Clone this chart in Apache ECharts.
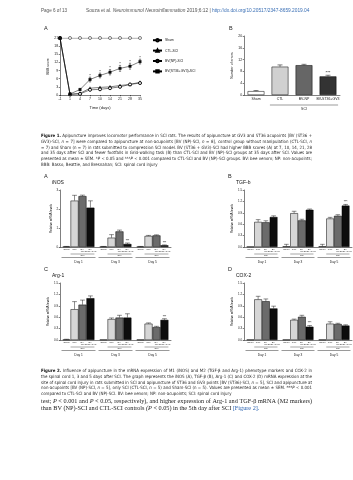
<!DOCTYPE html>
<html>
<head>
<meta charset="utf-8">
<script src="https://cdn.jsdelivr.net/npm/echarts@6.0.0/dist/echarts.min.js"></script>
<style>
html,body{margin:0;padding:0;background:#ffffff;}
#chart{width:353px;height:480px;}
</style>
</head>
<body>
<div id="chart"></div>
<script>
// ================= DATA =================
// Figure 1A - BBB score over time
const bbbDays = ['-1','1','4','7','10','14','21','28','35'];
const bbbTicks = [0,3,6,9,12,15,18,21];
const bbbSham = [21,21,21,21,21,21,21,21,21];
const bbbCTL  = [21,0.3,0.6,2.5,2.8,3.0,3.5,3.9,4.7];
const bbbNP   = [21,0.2,0.4,1.9,2.1,2.5,3.0,3.9,4.4];
const bbbST   = [21,0.4,2.0,5.7,7.2,8.4,9.8,10.6,12.3];
const bbbSTErr = [0,0.2,0.4,0.9,0.9,1.0,1.1,1.1,0.9];
const bbbSig   = ['','','','*','*','*','*','*','*'];
const bbbNames = ['Sham','CTL-SCI','BV(NP)-SCI','BV(ST36+GV3)-SCI'];

// Figure 1B - Grid-walking errors
const gwGroups = ['Sham','CTL','BV-NP','BV-ST36+GV3'];
const gwTicks  = [0,4,8,12,16,20];
const gwErrors = [1.3,9.6,10.1,6.3];
const gwSEM    = [0.2,0.6,0.3,0.4];
const gwSig    = ['','','','***'];

// Figure 2 - mRNA levels
const dayLabels  = ['Day 1','Day 3','Day 5'];
const groupShort = ['Sham','CTL','BV-\nNP','BV-\nST36+GV3'];
const inosTicks = [0,1,2,3];
const inosSham = [0.02,0.02,0.02];
const inosCTL  = [2.44,0.49,0.58];
const inosNP   = [2.68,0.82,0.61];
const inosST   = [2.07,0.16,0.09];
const inosShamErr = [0.01,0.01,0.01];
const inosCTLErr  = [0.28,0.16,0.03];
const inosNPErr   = [0.05,0.07,0.03];
const inosSTErr   = [0.36,0.05,0.02];
const inosSig = ['','***','***'];

const tgfTicks = [0,0.3,0.6,0.9,1.2,1.5];
const tgfSham = [0.01,0.02,0.02];
const tgfCTL  = [0.66,0.89,0.75];
const tgfNP   = [0.65,0.70,0.82];
const tgfST   = [0.79,0.98,1.09];
const tgfShamErr = [0,0.05,0.05];
const tgfCTLErr  = [0.06,0.05,0.03];
const tgfNPErr   = [0.04,0.03,0.03];
const tgfSTErr   = [0.03,0.02,0.03];
const tgfSig = ['','','***'];

const argTicks = [0,0.3,0.6,0.9,1.2,1.5];
const argSham = [0.01,0.01,0.01];
const argCTL  = [0.81,0.55,0.43];
const argNP   = [0.93,0.59,0.34];
const argST   = [1.10,0.59,0.53];
const argShamErr = [0.01,0,0];
const argCTLErr  = [0.20,0.03,0.02];
const argNPErr   = [0.12,0.06,0.02];
const argSTErr   = [0.06,0.10,0.03];
const argSig = ['','','***'];

const coxTicks = [0,0.3,0.6,0.9,1.2,1.5];
const coxSham = [0.01,0.01,0.01];
const coxCTL  = [1.07,0.53,0.43];
const coxNP   = [1.02,0.61,0.42];
const coxST   = [0.83,0.35,0.38];
const coxShamErr = [0,0,0];
const coxCTLErr  = [0.08,0.02,0.05];
const coxNPErr   = [0.06,0.04,0.02];
const coxSTErr   = [0.06,0.03,0.02];
const coxSig = ['','***',''];

// Text
const headerLeft = 'Page 6 of 13';
const headerRight = 'Souza et al. Neuroimmunol Neuroinflammation 2019;6:12 | http://dx.doi.org/10.20517/2347-8659.2019.04';
const caption1 = [
 'Figure 1. Apipuncture improves locomotor performance in SCI rats. The results of apipuncture at GV3 and ST36 acupoints [BV (ST36 +',
 'GV3)-SCI, n = 7] were compared to apipuncture at non-acupoints [BV (NP)-SCI, n = 8], control group without manipulation (CTL-SCI, n',
 '= 7) and Sham (n = 7) in rats submitted to compression SCI model. BV (ST36 + GV3)-SCI had higher BBB scores (A) at 7, 10, 14, 21, 28',
 'and 35 days after SCI and fewer footfalls in Grid-walking task (B) than CTL-SCI and BV (NP)-SCI groups at 35 days after SCI. Values are',
 'presented as mean ± SEM. *P < 0.05 and ***P < 0.001 compared to CTL-SCI and BV (NP)-SCI groups. BV: bee venom; NP: non-acupoints;',
 'BBB: Basso, Beattie, and Bresnahan; SCI: spinal cord injury'
];
const caption2 = [
 'Figure 2. Influence of apipuncture in the mRNA expression of M1 (iNOS) and M2 (TGF-β and Arg-1) phenotype markers and COX-2 in',
 'the spinal cord 1, 3 and 5 days after SCI. The graph represents the iNOS (A), TGF-β (B), Arg-1 (C) and COX-2 (D) mRNA expression at the',
 'site of spinal cord injury in rats submitted in SCI and apipuncture of ST36 and GV3 points [BV (ST36)-SCI, n = 5], SCI and apipuncture at',
 'non-acupoints [BV (NP)-SCI, n = 5], only SCI (CTL-SCI, n = 5) and Sham-SCI (n = 5). Values are presented as mean ± SEM. ***P < 0.001',
 'compared to CTL-SCI and BV (NP)-SCI. BV: bee venom; NP: non-acupoints; SCI: spinal cord injury'
];
const bodyText = [
 'test; P < 0.001 and P < 0.05, respectively), and higher expression of Arg-1 and TGF-β mRNA (M2 markers)',
 'than BV (NP)-SCI and CTL-SCI controls (P < 0.05) in the 5th day after SCI [Figure 2].'
];

// ================= STYLE / LAYOUT =================
const FONT = 'Liberation Sans';
const CAPFONT = 'Liberation Sans Narrow, DejaVu Sans Condensed, Liberation Sans';
const SERIF = 'Liberation Serif';
const INK = '#222';
const fig1Colors = ['#ffffff','#d0d0d0','#666666','#333333'];
const fig2Colors = ['#ffffff','#d6d6d6','#6b6b6b','#0d0d0d'];
const CAT_GAP = 0.14;

const grids = [
  {left:60, top:38, width:80, height:57},
  {left:244, top:36, width:96, height:59},
  {left:60, top:190, width:111, height:57},
  {left:244, top:190, width:108, height:57},
  {left:60, top:283, width:111, height:57},
  {left:244, top:283, width:108, height:57}
];

const panels = [
  {gi:2, letter:'A', title:'iNOS', ticks:inosTicks, dec:0,
   vals:[inosSham,inosCTL,inosNP,inosST], errs:[inosShamErr,inosCTLErr,inosNPErr,inosSTErr], sig:inosSig},
  {gi:3, letter:'B', title:'TGF-b', ticks:tgfTicks, dec:1,
   vals:[tgfSham,tgfCTL,tgfNP,tgfST], errs:[tgfShamErr,tgfCTLErr,tgfNPErr,tgfSTErr], sig:tgfSig},
  {gi:4, letter:'C', title:'Arg-1', ticks:argTicks, dec:1,
   vals:[argSham,argCTL,argNP,argST], errs:[argShamErr,argCTLErr,argNPErr,argSTErr], sig:argSig},
  {gi:5, letter:'D', title:'COX-2', ticks:coxTicks, dec:1,
   vals:[coxSham,coxCTL,coxNP,coxST], errs:[coxShamErr,coxCTLErr,coxNPErr,coxSTErr], sig:coxSig}
];

function axisLineStyle(){ return {show:true, lineStyle:{color:'#000', width:0.5}}; }
function yAxisFor(gi, ticks, name, dec, fs){
  return {
    type:'value', gridIndex:gi, min:ticks[0], max:ticks[ticks.length-1],
    interval:ticks[1]-ticks[0],
    name:name, nameLocation:'middle', nameGap: (dec ? 9 : 7),
    nameTextStyle:{fontSize:fs, fontFamily:FONT, color:INK},
    axisLine:axisLineStyle(),
    axisTick:{show:true, length:1.3, lineStyle:{color:'#000', width:0.5}},
    axisLabel:{fontSize:fs, fontFamily:FONT, color:INK, margin:1.8,
      formatter:(v)=> dec ? v.toFixed(dec) : String(Math.round(v))},
    splitLine:{show:false}
  };
}
function lineEl(x1,y1,x2,y2,w){
  return {type:'line', shape:{x1,y1,x2,y2}, style:{stroke:'#000', lineWidth:w||0.5}, silent:true};
}

const xAxes = [], yAxes = [], series = [];

// ---- Figure 1A ----
xAxes.push({type:'category', gridIndex:0, data:bbbDays, boundaryGap:false,
  name:'Time (days)', nameLocation:'middle', nameGap:11,
  nameTextStyle:{fontSize:4, fontFamily:FONT, color:INK},
  axisLine:axisLineStyle(), axisTick:{show:true, length:1.3, lineStyle:{color:'#000', width:0.5}},
  axisLabel:{fontSize:3.5, fontFamily:FONT, color:INK, margin:2.5}});
yAxes.push(yAxisFor(0, bbbTicks, 'BBB score', 0, 3.5));
const bbbSeriesData = [bbbSham, bbbCTL, bbbNP, bbbST];
const bbbSymbols = ['circle','triangle','circle','rect'];
const bbbFill = ['#ffffff','#111111','#ffffff','#111111'];
const bbbBorder = [0.5, 0.3, 0.9, 0.3];
bbbSeriesData.forEach((d, s) => {
  series.push({type:'line', name:bbbNames[s], xAxisIndex:0, yAxisIndex:0, data:d,
    symbol:bbbSymbols[s], symbolSize:(s===3?2.6:3), showAllSymbol:true, z:3+s,
    lineStyle:{color:'#000', width:0.5},
    itemStyle:{color:bbbFill[s], borderColor:'#000', borderWidth:bbbBorder[s]},
    emphasis:{disabled:true}, animation:false});
});
series.push({type:'custom', xAxisIndex:0, yAxisIndex:0, silent:true, z:10, animation:false,
  data: bbbST.map((v,i)=>[i, v, bbbSTErr[i]]),
  renderItem:(p, api)=>{
    const i = api.value(0), v = api.value(1), e = api.value(2);
    if (!e) return null;
    const lo = api.coord([i, v-e]), hi = api.coord([i, v+e]);
    const x = lo[0], cap = 1.1;
    const ch = [lineEl(x,lo[1],x,hi[1],0.4), lineEl(x-cap,hi[1],x+cap,hi[1],0.4), lineEl(x-cap,lo[1],x+cap,lo[1],0.4)];
    const sg = bbbSig[p.dataIndex];
    if (sg) ch.push({type:'text', x:x, y:hi[1]+0.6, style:{text:sg, fontSize:4, fontFamily:FONT, fill:'#000', align:'center', verticalAlign:'bottom'}});
    return {type:'group', children:ch};
  }});

// ---- Figure 1B ----
xAxes.push({type:'category', gridIndex:1, data:gwGroups,
  axisLine:axisLineStyle(), axisTick:{show:false},
  axisLabel:{fontSize:3.5, fontFamily:FONT, color:INK, margin:2.5, interval:0}});
yAxes.push(yAxisFor(1, gwTicks, 'Number of errors', 0, 3.5));
series.push({type:'bar', name:'Grid-walking errors', xAxisIndex:1, yAxisIndex:1, barWidth:'70%',
  data: gwErrors.map((v,i)=>({value:v, itemStyle:{color:fig1Colors[i]}})),
  itemStyle:{borderColor:'#000', borderWidth:0.5}, emphasis:{disabled:true}, animation:false});
series.push({type:'custom', xAxisIndex:1, yAxisIndex:1, silent:true, z:10, animation:false,
  data: gwErrors.map((v,i)=>[i, v, gwSEM[i]]),
  renderItem:(p, api)=>{
    const i = api.value(0), v = api.value(1), e = api.value(2);
    const lo = api.coord([i, v]), hi = api.coord([i, v+e]);
    const x = lo[0], cap = 2.5;
    const ch = [lineEl(x,lo[1],x,hi[1],0.5), lineEl(x-cap,hi[1],x+cap,hi[1],0.5)];
    const sg = gwSig[p.dataIndex];
    if (sg) ch.push({type:'text', x:x, y:hi[1]-0.3, style:{text:sg, fontSize:4.2, fontFamily:FONT, fill:'#000', align:'center', verticalAlign:'bottom'}});
    return {type:'group', children:ch};
  }});

// ---- Figure 2 panels ----
panels.forEach(pn => {
  const gi = pn.gi;
  xAxes.push({type:'category', gridIndex:gi, data:dayLabels,
    axisLine:axisLineStyle(), axisTick:{show:false},
    axisLabel:{fontSize:3.2, fontFamily:FONT, color:INK, margin:13.5}});
  yAxes.push(yAxisFor(gi, pn.ticks, 'Relative mRNA levels', pn.dec, 3));
  pn.vals.forEach((arr, s) => {
    series.push({type:'bar', name:pn.title+' '+groupShort[s].replace('\n',''), xAxisIndex:gi, yAxisIndex:gi,
      data:arr, barGap:'0%', barCategoryGap:(CAT_GAP*100)+'%',
      itemStyle:{color:fig2Colors[s], borderColor:'#000', borderWidth:0.5},
      label:{show:true, position:'bottom', distance:0.8, formatter:groupShort[s],
        fontSize:2.4, lineHeight:2.6, fontFamily:FONT, color:'#333'},
      emphasis:{disabled:true}, animation:false});
  });
  const errData = [];
  pn.vals.forEach((arr, s) => arr.forEach((v, d) => errData.push([d, v, pn.errs[s][d], s])));
  series.push({type:'custom', xAxisIndex:gi, yAxisIndex:gi, silent:true, z:10, animation:false,
    data: errData,
    renderItem:(p, api)=>{
      const d = api.value(0), v = api.value(1), e = api.value(2), s = api.value(3);
      const base = api.coord([d, v]);
      const bw = api.size([1, 0])[0];
      const barW = bw*(1-CAT_GAP)/4;
      const x = base[0] + (s-1.5)*barW;
      const ch = [];
      let topY = base[1];
      if (e > 0) {
        const hi = api.coord([d, v+e]);
        const cap = barW*0.3;
        ch.push(lineEl(x,base[1],x,hi[1],0.45), lineEl(x-cap,hi[1],x+cap,hi[1],0.45));
        topY = hi[1];
      }
      if (s === 3 && pn.sig[d]) ch.push({type:'text', x:x, y:topY-0.4, style:{text:pn.sig[d], fontSize:3, fontFamily:FONT, fill:'#000', align:'center', verticalAlign:'bottom'}});
      return {type:'group', children:ch};
    }});
});

const option = {
  backgroundColor:'#ffffff',
  animation:false,
  grid: grids.map(g => Object.assign({containLabel:false}, g)),
  xAxis: xAxes,
  yAxis: yAxes,
  legend: {orient:'vertical', left:147, top:33, itemWidth:9, itemHeight:3, itemGap:6,
    data:bbbNames, selectedMode:false,
    textStyle:{fontSize:3.4, fontFamily:FONT, color:INK, padding:[0,0,0,-2]}},
  series: series
};

const chart = echarts.init(document.getElementById('chart'), null, {renderer:'canvas', width:353, height:480});
chart.setOption(option);

// ================= TEXT / DECORATION =================
const mctx = document.createElement('canvas').getContext('2d');
function mw(t, size, fam, weight, style){
  mctx.font = (style||'normal') + ' ' + (weight||'normal') + ' ' + size + 'px ' + fam;
  return mctx.measureText(t).width;
}
function paragraph(lines, o){
  const els = [];
  const styled = lines.map((ln, li) => ln.split(' ').map((w, wi) => Object.assign({w:w}, o.styleFn ? o.styleFn(w, li, wi) : {})));
  let maxW = 0;
  styled.forEach((ws, li) => {
    if (o.justifyLast === false && li === styled.length-1 && styled.length > 1) return;
    let t = 0; ws.forEach(q => t += mw(q.w, 100, o.family, q.weight, q.style));
    t += (ws.length-1)*mw(' ', 100, o.family);
    maxW = Math.max(maxW, t);
  });
  const size = Math.min(o.maxSize, o.W*100/maxW);
  styled.forEach((ws, li) => {
    const widths = ws.map(q => mw(q.w, size, o.family, q.weight, q.style));
    const total = widths.reduce((a,b)=>a+b, 0);
    const justify = o.justify && li < styled.length-1 && ws.length > 1;
    const gap = justify ? (o.W-total)/(ws.length-1) : mw(' ', size, o.family);
    let x = o.x;
    ws.forEach((q, k) => {
      els.push({type:'text', x:x, y:o.y + li*o.lh, silent:true,
        style:{text:q.w, fontSize:size, fontFamily:o.family, fontWeight:q.weight||'normal', fontStyle:q.style||'normal',
          fill:q.color||o.color, align:'left', verticalAlign:'middle'}});
      x += widths[k] + gap;
    });
  });
  return els;
}
const italicWords = {'n':1,'P':1,'*P':1,'***P':1,'(P':1};
const graphics = [];
// header
graphics.push({type:'text', x:41, y:11, silent:true, style:{text:headerLeft, fontSize:4.6, fontFamily:FONT, fill:'#555', verticalAlign:'middle'}});
graphics.push(...paragraph([headerRight], {x:86, y:11, lh:6, W:226, family:FONT, maxSize:4.8, color:'#555', justify:false,
  styleFn:(w)=> (w.indexOf('Neuroi')===0 ? {style:'italic'} : (w.indexOf('http')===0 ? {color:'#3a6fb5'} : {}))}));
// captions
const capStyle = (w, li, wi) => {
  if (li===0 && wi<2) return {weight:'bold', color:'#111'};
  if (italicWords[w]) return {style:'italic'};
  return {};
};
graphics.push(...paragraph(caption1, {x:41, y:136, lh:5.75, W:271, family:CAPFONT, maxSize:4.8, color:'#2a2a2a', justify:true, justifyLast:false, styleFn:capStyle}));
graphics.push(...paragraph(caption2, {x:41, y:371, lh:5.7, W:271, family:CAPFONT, maxSize:4.8, color:'#2a2a2a', justify:true, justifyLast:false, styleFn:capStyle}));
graphics.push(...paragraph(bodyText, {x:41, y:401, lh:7, W:271, family:SERIF, maxSize:6.6, color:'#222', justify:true, justifyLast:false,
  styleFn:(w)=> (w==='[Figure' || w==='2].') ? {color:'#2a62b0'} : (italicWords[w] ? {style:'italic'} : {})}));

// panel letters
graphics.push({type:'text', x:44, y:28, silent:true, style:{text:'A', fontSize:5.5, fontFamily:FONT, fill:'#222', verticalAlign:'middle'}});
graphics.push({type:'text', x:229, y:28, silent:true, style:{text:'B', fontSize:5.5, fontFamily:FONT, fill:'#222', verticalAlign:'middle'}});

// Fig 1B SCI bracket
(function(){
  const c1 = chart.convertToPixel({xAxisIndex:1}, 1);
  const c3 = chart.convertToPixel({xAxisIndex:1}, 3);
  const c0 = chart.convertToPixel({xAxisIndex:1}, 0);
  const bw = c1 - c0;
  const y0 = chart.convertToPixel({yAxisIndex:1}, 0);
  const yb = y0 + 10;
  graphics.push(lineEl(c1 - bw*0.42, yb, c3 + bw*0.42, yb, 0.4));
  graphics.push({type:'text', x:(c1+c3)/2, y:yb+3.8, silent:true, style:{text:'SCI', fontSize:3.5, fontFamily:FONT, fill:INK, align:'center', verticalAlign:'middle'}});
})();

// Fig 2 titles + brackets
panels.forEach(pn => {
  const gi = pn.gi, g = grids[gi];
  graphics.push({type:'text', x:g.left-16, y:g.top-14, silent:true, style:{text:pn.letter, fontSize:5.5, fontFamily:FONT, fill:'#222', verticalAlign:'middle'}});
  graphics.push({type:'text', x:g.left-8, y:g.top-7, silent:true, style:{text:pn.title, fontSize:5, fontFamily:FONT, fill:'#111', verticalAlign:'middle'}});
  const c0 = chart.convertToPixel({xAxisIndex:gi}, 0);
  const c1 = chart.convertToPixel({xAxisIndex:gi}, 1);
  const bw = c1 - c0;
  const y0 = chart.convertToPixel({yAxisIndex:gi}, 0);
  dayLabels.forEach((lab, d) => {
    const cx = chart.convertToPixel({xAxisIndex:gi}, d);
    const inner = bw*(1-CAT_GAP);
    const barW = inner/4;
    const ys = y0 + 7;
    const xl = cx - inner/2 + barW, xr = cx + inner/2;
    graphics.push(lineEl(xl, ys, xr, ys, 0.35));
    graphics.push({type:'text', x:(xl+xr)/2, y:ys+1.6, silent:true, style:{text:'SCI', fontSize:2.4, fontFamily:FONT, fill:'#333', align:'center', verticalAlign:'middle'}});
    const yd = y0 + 10.5;
    graphics.push(lineEl(cx - bw/2 + 1.5, yd, cx + bw/2 - 1.5, yd, 0.4));
  });
});

chart.setOption({graphic:{elements:graphics}});
</script>
</body>
</html>
